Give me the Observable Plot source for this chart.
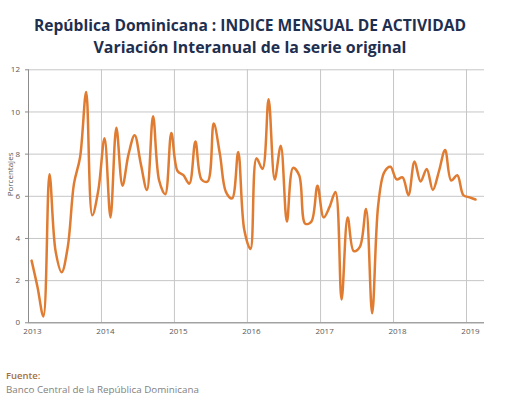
<!DOCTYPE html>
<html><head><meta charset="utf-8">
<script src="https://cdn.jsdelivr.net/npm/d3@7"></script>
<script src="https://cdn.jsdelivr.net/npm/@observablehq/plot@0.6"></script>
<style>
body{margin:0;background:#fff;width:512px;height:398px;position:relative;overflow:hidden;font-family:"Open Sans",sans-serif}
.t{position:absolute;left:0;width:500px;text-align:center;font-weight:700;color:#1f2f4f;white-space:nowrap;line-height:18px}
#t1{top:16px;font-size:15.6px}
#t2{top:38px;font-size:15.9px}
#chart{position:absolute;left:0;top:60px}
.f{position:absolute;left:6px;white-space:nowrap;line-height:12px}
#f1{top:370px;color:#a5703d;font-weight:600;font-size:9.5px}
#f2{top:384px;color:#7f7f7f;font-size:9.8px}
</style></head>
<body>
<div class="t" id="t1">República Dominicana : INDICE MENSUAL DE ACTIVIDAD</div>
<div class="t" id="t2">Variación Interanual de la serie original</div>
<div id="chart"></div>
<div class="f" id="f1">Fuente:</div>
<div class="f" id="f2">Banco Central de la República Dominicana</div>
<script>
const startYear = 2013;
const values = [2.95,1.7,0.3,7.05,3.4,2.4,3.6,6.6,7.85,10.95,5.1,6.3,
8.75,5.0,9.25,6.5,8.0,8.9,7.55,6.3,9.8,6.75,6.1,9.0,
7.2,7.0,6.6,8.6,6.8,6.7,9.45,8.0,6.2,5.9,8.1,4.4,
3.5,7.8,7.3,10.6,6.8,8.4,4.8,7.35,7.0,4.7,4.8,6.5,
5.0,5.5,6.2,1.1,5.0,3.4,3.6,5.4,0.45,5.6,7.15,7.4,
6.8,6.9,6.05,7.65,6.7,7.3,6.3,7.2,8.2,6.75,7.0,6.05,
5.95,5.85];
const years = [2013,2014,2015,2016,2017,2018,2019];
const yTicks = [0,2,4,6,8,10,12];

const start = new Date(Date.UTC(startYear,0,1));
const data = values.map((v,i)=>{
  const a = d3.utcMonth.offset(start,i), b = d3.utcMonth.offset(start,i+1);
  return {date:new Date((+a + +b)/2), value:v};
});
const yearDates = years.map(y=>new Date(Date.UTC(y,0,1)));
const end = d3.utcMonth.offset(start, values.length+1);

const chart = Plot.plot({
  width:512, height:280,
  marginTop:9.3, marginLeft:28, marginRight:28, marginBottom:17.7,
  style:{fontFamily:"Open Sans, sans-serif", fontSize:"8px", color:"#595959", background:"white", overflow:"visible"},
  x:{type:"utc", domain:[start,end], label:null},
  y:{domain:[0,12], label:null},
  marks:[
    Plot.gridY(yTicks,{stroke:"#c6c6c6", strokeOpacity:1}),
    Plot.gridX(yearDates,{stroke:"#c6c6c6", strokeOpacity:1}),
    Plot.ruleY([0],{stroke:"#8c8c8c"}),
    Plot.ruleX([start],{stroke:"#8c8c8c"}),
    Plot.axisX(yearDates,{tickFormat:"%Y", tickSize:0, tickPadding:6, dx:4, label:null, fill:"#595959"}),
    Plot.axisY(yTicks,{tickSize:3, tickPadding:5.5, label:null, fill:"#595959", stroke:"#8c8c8c", strokeOpacity:1}),
    Plot.line(data,{x:"date", y:"value", stroke:"#e07c32", strokeWidth:2.5, curve:"catmull-rom"}),
    Plot.text(["Porcentajes"],{frameAnchor:"left", rotate:-90, dx:-18, fontSize:8, fill:"#595959"})
  ]
});
document.getElementById("chart").append(chart);
</script>
</body></html>
